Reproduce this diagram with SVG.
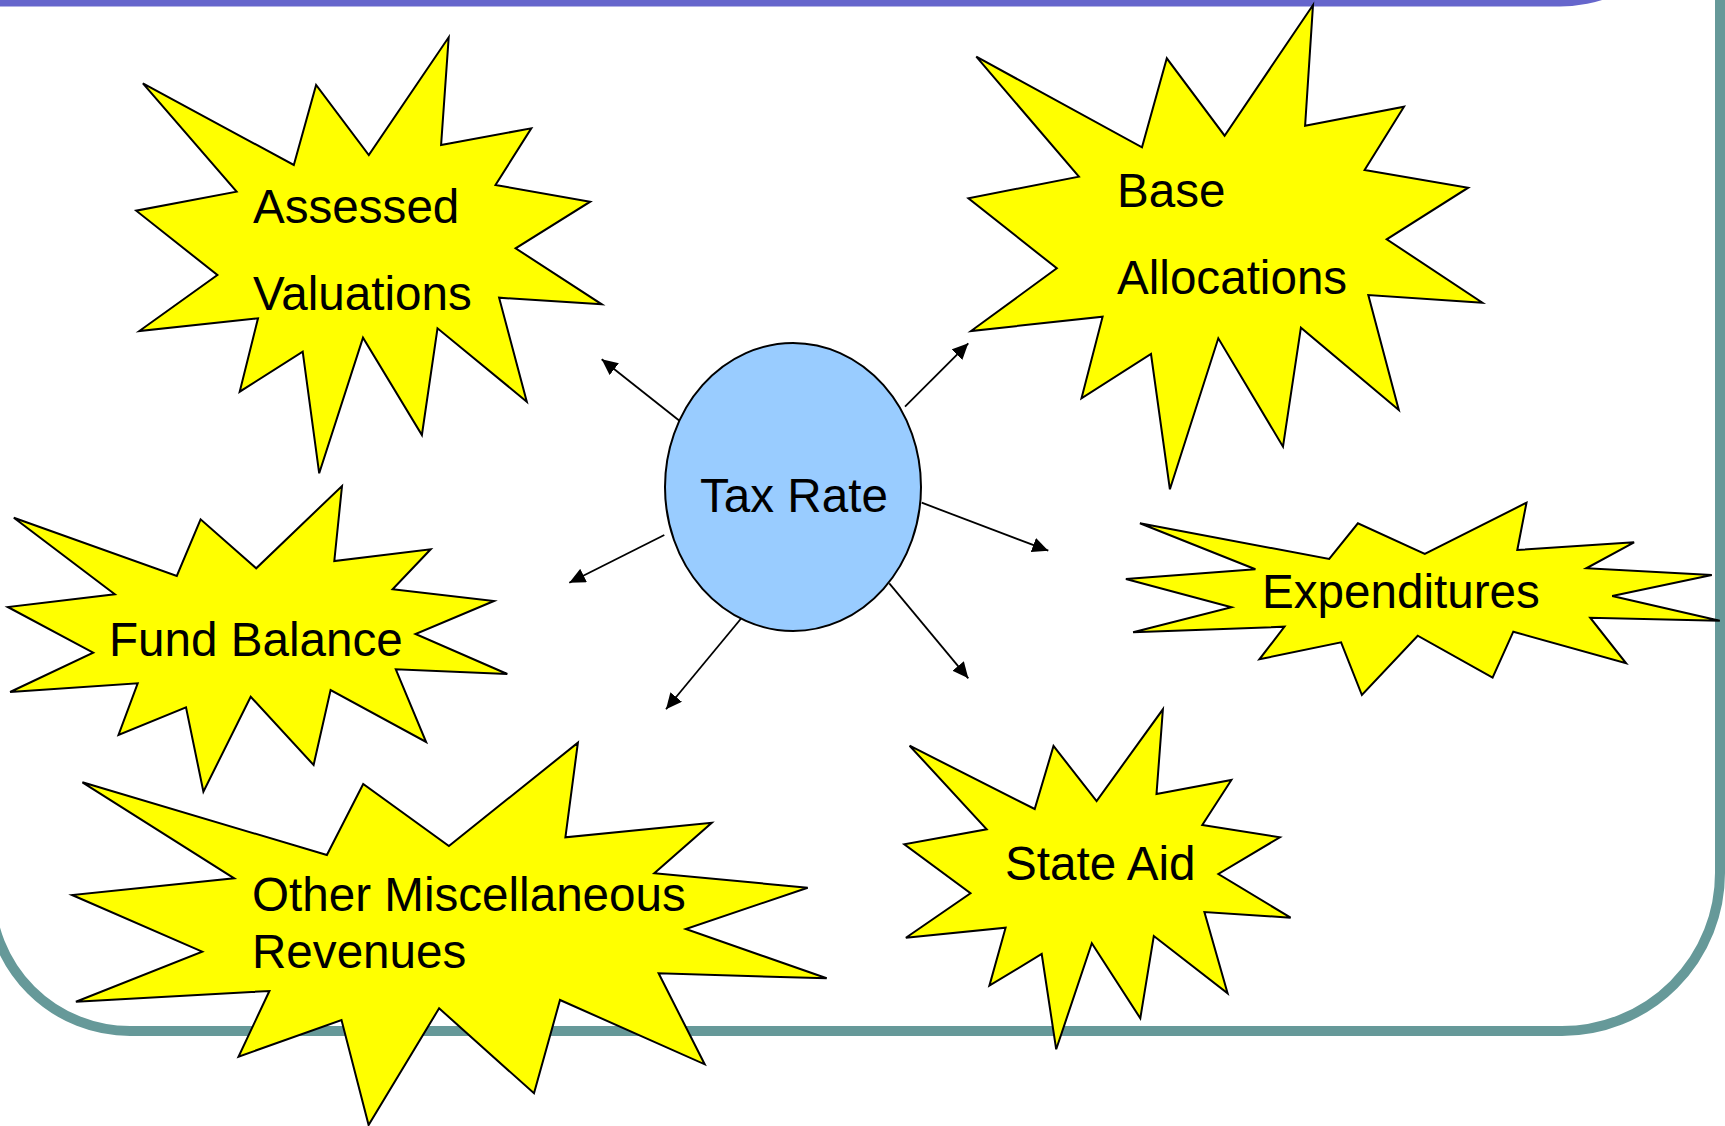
<svg xmlns="http://www.w3.org/2000/svg" width="1725" height="1126" viewBox="0 0 1725 1126">
  <style>
    .star { fill: #FFFF00; stroke: #000000; stroke-width: 2; stroke-linejoin: miter; }
    .hub { fill: #99CCFF; stroke: #000000; stroke-width: 2; }
    .label { font-family: "Liberation Sans", Arial, sans-serif; font-size: 47.6px; fill: #000000; }
    .link { stroke: #000000; stroke-width: 1.8; fill: none; marker-end: url(#head); }
  </style>
  <defs>
    <marker id="head" markerUnits="userSpaceOnUse" markerWidth="17" markerHeight="15" refX="16" refY="7.5" orient="auto">
      <path d="M0,0 L16,7.5 L0,15 Z" fill="#000000"/>
    </marker>
  </defs>

  <!-- slide background and frame -->
  <rect x="0" y="0" width="1725" height="1126" fill="#FFFFFF"/>
  <path d="M -10,-20 L -10,891 A 140 140 0 0 0 130,1031 L 1562,1031 A 158 158 0 0 0 1720,873 L 1720,-20" fill="none" stroke="#669999" stroke-width="10"/>
  <rect x="-200" y="-300" width="1900" height="306.5" rx="140" ry="140" fill="#6666CC"/>

  <!-- connectors from the hub -->
  <g id="connectors">
    <line class="link" x1="680.7" y1="421.7" x2="601.7" y2="359.3"/>
    <line class="link" x1="905" y1="406.7" x2="968.3" y2="343.3"/>
    <line class="link" x1="921.7" y1="502.7" x2="1048.3" y2="550.7"/>
    <line class="link" x1="889.3" y1="583.3" x2="968.3" y2="678.3"/>
    <line class="link" x1="744" y1="615" x2="666" y2="709.3"/>
    <line class="link" x1="664.3" y1="535" x2="569.3" y2="582.7"/>
  </g>

  <g id="assessed-valuations">
    <polygon class="star" points="142.9,83.3 236.6,191.7 136.2,210.7 217.4,275 139.3,331 258,318.3 239.7,391.7 302.7,351.7 319.2,473.3 363,337.7 421.9,435 437.5,328.3 526.8,401.7 499.1,297.7 601.8,304.3 515.6,248.3 590.2,201.7 495.5,185 531.3,128.3 441.1,145 448.7,37.3 368.8,155 316.1,85 293.8,165"/>
    <text class="label" x="253" y="223">Assessed</text>
    <text class="label" x="253" y="310">Valuations</text>
  </g>

  <g id="base-allocations">
    <polygon class="star" points="976.3,56.7 1142,147.3 1166.8,58.3 1224.6,135.7 1313,5 1305.1,125.7 1404,106.7 1364.6,170 1468.2,187.7 1386.7,239.3 1482.4,302.7 1368.3,295 1398.8,410 1300.9,327.7 1283,446.7 1218.3,338.3 1169.9,489.3 1151,354 1081.5,398.3 1102.6,316.7 971,331 1056.8,268.3 968.4,198.3 1078.9,176.7"/>
    <text class="label" x="1117" y="207">Base</text>
    <text class="label" x="1117" y="294">Allocations</text>
  </g>

  <g id="fund-balance">
    <polygon class="star" points="13.8,517.7 114.8,594.3 7.8,607 93.2,652.7 10.1,692 137.7,683.3 118.5,735 186,707.3 203.4,791.7 250.7,696.7 313.6,765 330.6,690 426.1,742 395.8,669.3 507.3,674 415.5,634 494,601 392.6,589.3 430.7,549.3 334.3,561 342,486 256.2,568.3 200.6,519.3 176.8,576"/>
    <text class="label" x="109" y="656">Fund Balance</text>
  </g>

  <g id="expenditures">
    <polygon class="star" points="1139.9,523.3 1329.2,559 1357.9,523.3 1424.8,554 1526.5,502.7 1517.3,550 1634.1,542.3 1586.3,568.3 1711.8,575 1612.2,596 1719.8,620.7 1590.2,617.7 1626.1,663.3 1513.3,631.7 1492.6,677.7 1417.7,635.7 1361.9,695 1341.1,642.3 1259.4,659.3 1284.5,626.7 1133.1,632.3 1231.5,607.3 1125.9,579 1255.4,569.3"/>
    <text class="label" x="1262" y="608">Expenditures</text>
  </g>

  <g id="other-miscellaneous-revenues">
    <polygon class="star" points="82.4,782.3 326.9,855 363.2,784 448.9,846 577.9,742.7 565.4,837.3 711.8,822.7 654.3,873.3 807.7,887.7 685.8,929 826.7,978.3 658.6,973.3 704.7,1064.3 560,1000 534,1093.3 439.1,1008.3 368.6,1125 341.5,1020 238.5,1056.7 269.4,991 75.9,1001.7 202.2,951.7 72.1,895 234.2,878.3"/>
    <text class="label" x="252" y="911">Other Miscellaneous</text>
    <text class="label" x="252" y="968">Revenues</text>
  </g>

  <g id="state-aid">
    <polygon class="star" points="909.6,745.7 1034.7,809 1053.5,746 1096.6,801 1162.9,709.3 1156.5,794 1231.4,780 1202.3,825 1279.9,837.3 1218.4,874 1290.6,917.7 1204.4,912 1227.6,993.3 1153.8,936 1140.3,1018.3 1091.8,943.3 1056.2,1049.3 1041.7,954 989.4,985.7 1005.6,927.7 905.9,937.7 970.5,893.3 904.3,844.3 986.7,829.3"/>
    <text class="label" x="1005" y="880">State Aid</text>
  </g>

  <g id="tax-rate">
    <ellipse class="hub" cx="793" cy="487" rx="128" ry="144"/>
    <text class="label" x="794" y="512" text-anchor="middle">Tax Rate</text>
  </g>
</svg>
